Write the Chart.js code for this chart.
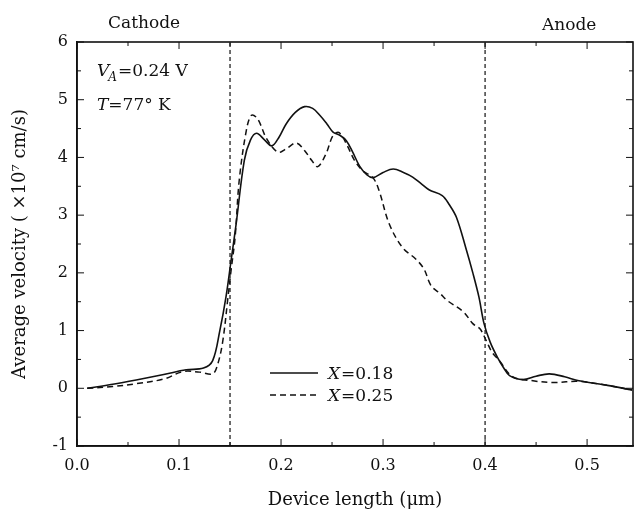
<!DOCTYPE html>
<html>
<head>
<meta charset="utf-8">
<script src="https://cdn.jsdelivr.net/npm/chart.js@4/dist/chart.umd.min.js"></script>
<style>
  html, body { margin: 0; padding: 0; background: #fff; }
  canvas { display: block; }
</style>
</head>
<body>
<canvas id="velocityChart" width="634" height="511"></canvas>
<script>
// Device length (um) and average velocity (x10^7 cm/s)
const lengthX18 = [0.01, 0.035, 0.058, 0.085, 0.107, 0.124, 0.133, 0.140, 0.146, 0.151, 0.156, 0.164, 0.170, 0.176, 0.184, 0.191, 0.198, 0.205, 0.214, 0.223, 0.231, 0.238, 0.245, 0.251, 0.258, 0.264, 0.270, 0.277, 0.284, 0.290, 0.300, 0.310, 0.320, 0.329, 0.337, 0.345, 0.358, 0.365, 0.372, 0.381, 0.388, 0.394, 0.399, 0.405, 0.412, 0.418, 0.424, 0.437, 0.450, 0.463, 0.478, 0.492, 0.520, 0.544];
const velocityX18 = [0.00, 0.07, 0.145, 0.24, 0.32, 0.35, 0.48, 1.0, 1.58, 2.21, 2.85, 3.95, 4.30, 4.42, 4.30, 4.20, 4.35, 4.58, 4.78, 4.88, 4.85, 4.73, 4.58, 4.44, 4.38, 4.29, 4.10, 3.85, 3.70, 3.65, 3.74, 3.80, 3.74, 3.66, 3.55, 3.44, 3.34, 3.18, 2.96, 2.44, 2.00, 1.58, 1.12, 0.80, 0.54, 0.36, 0.22, 0.15, 0.21, 0.25, 0.20, 0.13, 0.05, -0.03];

const lengthX25 = [0.01, 0.035, 0.058, 0.085, 0.104, 0.120, 0.133, 0.138, 0.143, 0.148, 0.151, 0.155, 0.159, 0.166, 0.171, 0.177, 0.186, 0.197, 0.205, 0.215, 0.223, 0.230, 0.236, 0.244, 0.251, 0.257, 0.265, 0.272, 0.280, 0.290, 0.296, 0.306, 0.319, 0.332, 0.340, 0.347, 0.356, 0.363, 0.379, 0.388, 0.395, 0.401, 0.407, 0.414, 0.427, 0.447, 0.466, 0.492, 0.520, 0.544];
const velocityX25 = [0.00, 0.03, 0.08, 0.16, 0.29, 0.28, 0.25, 0.42, 0.83, 1.58, 2.04, 2.62, 3.60, 4.47, 4.73, 4.67, 4.32, 4.09, 4.15, 4.25, 4.12, 3.95, 3.84, 4.06, 4.38, 4.43, 4.20, 3.95, 3.77, 3.65, 3.43, 2.85, 2.44, 2.24, 2.07, 1.78, 1.64, 1.52, 1.32, 1.12, 1.03, 0.83, 0.62, 0.48, 0.20, 0.13, 0.10, 0.12, 0.05, -0.03];

// region boundaries (vertical dashed lines)
const cathodeEdge = 0.15;
const anodeEdge = 0.4;

const xTickValues = [0.0, 0.1, 0.2, 0.3, 0.4, 0.5];
const xTickLabels = ['0.0', '0.1', '0.2', '0.3', '0.4', '0.5'];
const yTickValues = [-1, 0, 1, 2, 3, 4, 5, 6];
const yTickLabels = ['-1', '0', '1', '2', '3', '4', '5', '6'];

const X_MIN = 0, X_MAX = 0.545, Y_MIN = -1, Y_MAX = 6;
const SERIF = "'DejaVu Serif', 'Liberation Serif', serif";
const INK = '#111';

const toPoints = (xs, ys) => xs.map((x, i) => ({ x: x, y: ys[i] }));

// frame, inward major/minor ticks, labels and legend
const decorations = {
  id: 'decorations',
  afterDraw(chart) {
    const ctx = chart.ctx;
    const { left, right, top, bottom } = chart.chartArea;
    const xs = chart.scales.x;
    const ys = chart.scales.y;

    ctx.save();
    ctx.strokeStyle = INK;
    ctx.lineWidth = 1.6;
    ctx.strokeRect(left, top, right - left, bottom - top);

    ctx.lineWidth = 1;
    const xMinor = xTickValues.slice(0, -1).map((v, i) => (v + xTickValues[i + 1]) / 2);
    const yMinor = yTickValues.slice(0, -1).map((v, i) => (v + yTickValues[i + 1]) / 2);
    const tickX = (v, len) => {
      const px = xs.getPixelForValue(v);
      ctx.beginPath();
      ctx.moveTo(px, bottom); ctx.lineTo(px, bottom - len);
      ctx.moveTo(px, top); ctx.lineTo(px, top + len);
      ctx.stroke();
    };
    const tickY = (v, len) => {
      const py = ys.getPixelForValue(v);
      ctx.beginPath();
      ctx.moveTo(left, py); ctx.lineTo(left + len, py);
      ctx.moveTo(right, py); ctx.lineTo(right - len, py);
      ctx.stroke();
    };
    xTickValues.forEach(v => tickX(v, 7));
    xMinor.forEach(v => tickX(v, 4));
    yTickValues.forEach(v => tickY(v, 7));
    yMinor.forEach(v => tickY(v, 4));

    ctx.fillStyle = INK;
    ctx.textBaseline = 'alphabetic';
    ctx.font = '17px ' + SERIF;
    ctx.textAlign = 'left';
    ctx.fillText('Cathode', 108, 28);
    ctx.fillText('Anode', 542, 30);

    // V_A = 0.24 V
    let x = 97;
    ctx.font = 'italic 17px ' + SERIF;
    ctx.fillText('V', x, 76);
    x += ctx.measureText('V').width;
    ctx.font = 'italic 12px ' + SERIF;
    ctx.fillText('A', x - 1, 81);
    x += ctx.measureText('A').width;
    ctx.font = '17px ' + SERIF;
    ctx.fillText('=0.24 V', x, 76);

    // T = 77 deg K
    x = 97;
    ctx.font = 'italic 17px ' + SERIF;
    ctx.fillText('T', x, 110);
    x += ctx.measureText('T').width;
    ctx.font = '17px ' + SERIF;
    ctx.fillText('=77\u00B0 K', x, 110);

    // legend
    const legendRows = [
      { ds: chart.data.datasets[0], label: '=0.18', y: 373 },
      { ds: chart.data.datasets[1], label: '=0.25', y: 395 }
    ];
    legendRows.forEach(row => {
      ctx.beginPath();
      ctx.lineWidth = row.ds.borderWidth;
      ctx.setLineDash(row.ds.borderDash || []);
      ctx.moveTo(270, row.y);
      ctx.lineTo(318, row.y);
      ctx.stroke();
      ctx.setLineDash([]);
      let lx = 328;
      ctx.font = 'italic 17px ' + SERIF;
      ctx.fillText('X', lx, row.y + 6);
      lx += ctx.measureText('X').width + 1;
      ctx.font = '17px ' + SERIF;
      ctx.fillText(row.label, lx, row.y + 6);
    });
    ctx.restore();
  }
};

new Chart(document.getElementById('velocityChart'), {
  type: 'line',
  data: {
    datasets: [
      {
        label: 'X=0.18',
        data: toPoints(lengthX18, velocityX18),
        borderColor: INK,
        borderWidth: 1.6,
        pointRadius: 0,
        tension: 0.35,
        fill: false
      },
      {
        label: 'X=0.25',
        data: toPoints(lengthX25, velocityX25),
        borderColor: INK,
        borderWidth: 1.5,
        borderDash: [6, 4],
        pointRadius: 0,
        tension: 0.35,
        fill: false
      },
      {
        label: 'cathode edge',
        data: [{ x: cathodeEdge, y: Y_MIN }, { x: cathodeEdge, y: Y_MAX }],
        borderColor: INK,
        borderWidth: 1.2,
        borderDash: [4, 3],
        pointRadius: 0
      },
      {
        label: 'anode edge',
        data: [{ x: anodeEdge, y: Y_MIN }, { x: anodeEdge, y: Y_MAX }],
        borderColor: INK,
        borderWidth: 1.2,
        borderDash: [4, 3],
        pointRadius: 0
      }
    ]
  },
  options: {
    responsive: false,
    animation: false,
    devicePixelRatio: 1,
    layout: { padding: { top: 42, right: 1, left: 0, bottom: 0 } },
    plugins: {
      legend: { display: false },
      tooltip: { enabled: false }
    },
    scales: {
      x: {
        type: 'linear',
        min: X_MIN,
        max: X_MAX,
        grid: { display: false, drawTicks: false },
        border: { display: true, color: INK, width: 1.6 },
        afterBuildTicks: scale => { scale.ticks = xTickValues.map(v => ({ value: v })); },
        afterFit: scale => { scale.height = 65; },
        ticks: {
          autoSkip: false,
          maxRotation: 0,
          padding: 10,
          color: INK,
          font: { family: SERIF, size: 16 },
          callback: (v, i) => xTickLabels[i]
        },
        title: {
          display: true,
          text: 'Device length (\u03BCm)',
          color: INK,
          font: { family: SERIF, size: 18 },
          padding: { top: 0, bottom: 0 }
        }
      },
      y: {
        type: 'linear',
        min: Y_MIN,
        max: Y_MAX,
        grid: { display: false, drawTicks: false },
        border: { display: true, color: INK, width: 1.6 },
        afterBuildTicks: scale => { scale.ticks = yTickValues.map(v => ({ value: v })); },
        afterFit: scale => { scale.width = 77; },
        ticks: {
          autoSkip: false,
          padding: 9,
          color: INK,
          font: { family: SERIF, size: 16 },
          callback: (v, i) => yTickLabels[i]
        },
        title: {
          display: true,
          text: 'Average velocity ( \u00D710\u2077 cm/s)',
          color: INK,
          font: { family: SERIF, size: 18 },
          padding: { top: 10, bottom: 0 }
        }
      }
    }
  },
  plugins: [decorations]
});
</script>
</body>
</html>
